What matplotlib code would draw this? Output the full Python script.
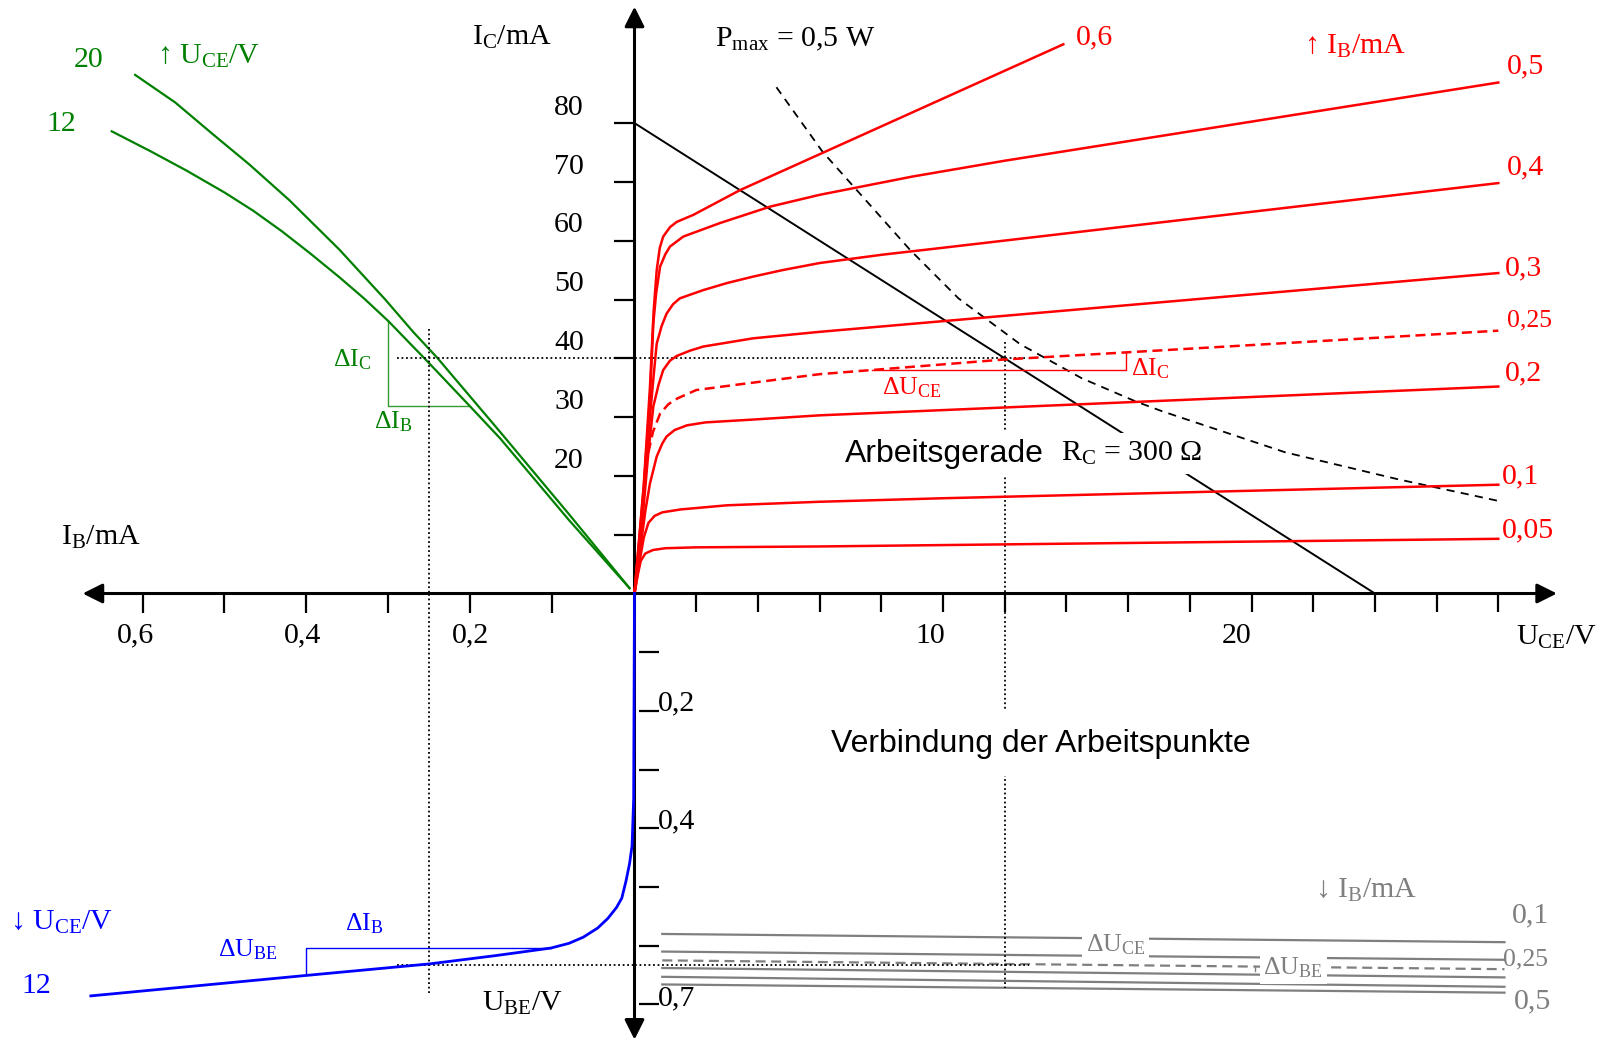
import numpy as np
import matplotlib.pyplot as plt

plt.rcParams['font.family'] = ['Liberation Serif', 'DejaVu Serif']
plt.rcParams['mathtext.fontset'] = 'custom'
plt.rcParams['mathtext.rm'] = 'Liberation Serif'
plt.rcParams['mathtext.it'] = 'Liberation Serif:italic'

# ---- quadrant I: output characteristics I_C(U_CE), parameter I_B
uce_005 = [0, 0.1, 0.2, 0.35, 0.6, 1.0, 2.0, 6.0, 28.0]
ic_005 = [0, 3.0, 5.5, 6.8, 7.4, 7.7, 7.85, 8.0, 9.3]
uce_01 = [0, 0.15, 0.3, 0.45, 0.65, 0.9, 1.5, 3.0, 6.0, 10.0, 28.0]
ic_01 = [0, 5.0, 9.5, 12.0, 13.2, 13.8, 14.3, 15.0, 15.6, 16.2, 18.5]
uce_02 = [0, 0.2, 0.35, 0.5, 0.72, 0.9, 1.04, 1.3, 1.7, 2.3, 3.9, 6.0, 28.0]
ic_02 = [0, 8.0, 14.0, 18.7, 23.3, 25.5, 26.7, 27.8, 28.6, 29.1, 29.6, 30.3, 35.2]
uce_025 = [0.45, 0.6, 0.83, 1.1, 1.4, 2.0, 3.3, 6.0, 12.0, 28.0]
ic_025 = [24.0, 27.5, 30.6, 32.2, 33.2, 34.6, 35.5, 37.3, 39.8, 44.7]
uce_03 = [0, 0.25, 0.45, 0.61, 0.78, 0.93, 1.15, 1.37, 1.8, 2.23, 3.85, 6.0, 28.0]
ic_03 = [0, 12.0, 24.0, 31.8, 35.5, 38.0, 39.6, 40.4, 41.3, 42.0, 43.4, 44.5, 54.5]
uce_04 = [0, 0.3, 0.5, 0.62, 0.72, 0.88, 1.04, 1.25, 1.47, 2.23, 3.0, 3.85, 4.8, 6.0, 8.0, 10.0, 28.0]
ic_04 = [0, 17.0, 30.0, 37.0, 42.5, 45.5, 47.6, 49.2, 50.2, 51.6, 52.8, 53.9, 55.0, 56.2, 57.6, 58.8, 69.8]
uce_05 = [0, 0.3, 0.5, 0.61, 0.7, 0.83, 1.0, 1.15, 1.58, 2.77, 4.4, 6.0, 9.0, 12.0, 28.0]
ic_05 = [0, 18.0, 33.0, 45.9, 51.0, 55.6, 57.7, 59.0, 60.7, 63.0, 65.8, 67.8, 70.9, 73.6, 86.9]
uce_06 = [0, 0.3, 0.5, 0.62, 0.72, 0.82, 0.93, 1.15, 1.37, 1.91, 3.42, 13.9]
ic_06 = [0, 18.5, 35.0, 48.0, 55.0, 58.8, 60.7, 62.3, 63.2, 64.4, 68.6, 93.4]

uce_load = [0, 24]
ic_load = [80, 0]

uce_pmax = [4.6, 6.1, 8.93, 10.5, 12.5, 14.5, 16.23, 17.1, 21.1, 24.77, 28.0]
ic_pmax = [86.1, 75.1, 58.45, 50.2, 42.4, 36.6, 32.7, 31.0, 24.0, 19.4, 15.75]

# ---- quadrant II: current gain I_C(I_B), parameter U_CE
ib_g12 = [0.006, 0.08, 0.164, 0.2007, 0.25, 0.30, 0.33, 0.36, 0.396, 0.43,
          0.465, 0.50, 0.546, 0.59, 0.6375]
ic_g12 = [0.9, 12.5, 26.4, 31.85, 39.1, 46.3, 50.2, 53.8, 57.9, 61.6,
          65.1, 68.2, 71.9, 75.2, 78.6]
ib_g20 = [0.006, 0.08, 0.164, 0.24, 0.27, 0.304, 0.36, 0.421, 0.47, 0.515, 0.56, 0.609]
ic_g20 = [0.9, 13.5, 27.5, 40.0, 44.5, 50.0, 58.5, 66.9, 73.0, 78.2, 83.5, 88.2]

# ---- quadrant III: input characteristic I_B(U_BE), U_CE = 12 V
ib_in = [0, 0.001, 0.003, 0.006, 0.0104, 0.0155, 0.022, 0.0325, 0.045, 0.0625,
         0.08, 0.102, 0.17, 0.25, 0.40, 0.663]
ube_in = [0, 0.35, 0.43, 0.46, 0.49, 0.519, 0.535, 0.5535, 0.570, 0.5855,
          0.596, 0.604, 0.617, 0.631, 0.6506, 0.6855]

# ---- quadrant IV: feedback U_BE(U_CE), parameter I_B
ib_fb = [0.1, 0.2, 0.25, 0.3, 0.4, 0.5]
uce_fb = [0.9, 28.2]
ube_fb_left = [0.580, 0.610, 0.625, 0.638, 0.653, 0.666]
ube_fb_right = [0.594, 0.624, 0.640, 0.654, 0.670, 0.680]

uce_ticks = np.arange(2, 29, 2)
ic_ticks = np.arange(10, 81, 10)
ic_labels = np.arange(20, 81, 10)
ib_ticks = np.arange(1, 7) / 10
ube_ticks = np.arange(1, 8) / 10

# ---- layout: four axes meeting in one origin
W, H = 1614, 1044
ox, oy = 634.5, 593.5
px_uce, px_ic, px_ib, px_ube = 30.85, 5.88, 820.0, 587.0

fig = plt.figure(figsize=(W / 100, H / 100), dpi=100)
ax1 = fig.add_axes([ox / W, (H - oy) / H, (W - ox) / W, oy / H])
ax2 = fig.add_axes([0, (H - oy) / H, ox / W, oy / H])
ax3 = fig.add_axes([0, 0, ox / W, (H - oy) / H])
ax4 = fig.add_axes([ox / W, 0, (W - ox) / W, (H - oy) / H])
ax1.set_xlim(0, (W - ox) / px_uce); ax1.set_ylim(0, oy / px_ic)
ax2.set_xlim(ox / px_ib, 0); ax2.set_ylim(0, oy / px_ic)
ax3.set_xlim(ox / px_ib, 0); ax3.set_ylim((H - oy) / px_ube, 0)
ax4.set_xlim(0, (W - ox) / px_uce); ax4.set_ylim((H - oy) / px_ube, 0)
for ax in (ax1, ax2, ax3, ax4):
    ax.axis('off')

RED, GREEN, BLUE, GRAY = '#ff0000', '#008000', '#0000ff', '#7f7f7f'
FS, FS2, FSS = 21.5, 18.5, 23
SANS = ['Liberation Sans', 'DejaVu Sans']
arr = dict(arrowstyle='-|>', lw=2.2, color='k', mutation_scale=30,
           shrinkA=0, shrinkB=0)

# coordinate axes with arrows
ax1.annotate('', xy=(29.9, 0), xytext=(0, 0), arrowprops=arr, annotation_clip=False)
ax1.annotate('', xy=(0, 99.8), xytext=(0, 0), arrowprops=arr, annotation_clip=False)
ax2.annotate('', xy=(0.673, 0), xytext=(0, 0), arrowprops=arr, annotation_clip=False)
ax3.annotate('', xy=(0, 0.760), xytext=(0, 0), arrowprops=arr, annotation_clip=False)

# tick marks
ax4.vlines(uce_ticks, 0, 0.031, color='k', lw=1.6, clip_on=False)
ax2.hlines(ic_ticks, 0, 0.0244, color='k', lw=1.6, clip_on=False)
ax3.vlines(ib_ticks, 0, 0.034, color='k', lw=1.6, clip_on=False)
ax4.hlines(ube_ticks, 0.15, 0.8, color='k', lw=1.6, clip_on=False)

# tick labels
for v in ic_labels:
    ax2.text(0.08, v + 2.6, f'{v}', fontsize=FS, ha='center', va='center')
for v, x in zip([0.6, 0.4, 0.2], [0.6085, 0.405, 0.2]):
    ax3.text(x, 0.072, f'{v:.1f}'.replace('.', ','), fontsize=FS, ha='center', va='center')
for v, x in zip([10, 20], [9.6, 19.53]):
    ax4.text(x, 0.072, f'{v}', fontsize=FS, ha='center', va='center')
for v, y in zip([0.2, 0.4, 0.7], [0.1876, 0.3875, 0.689]):
    ax4.text(0.77, y, f'{v:.1f}'.replace('.', ','), fontsize=FS, ha='left', va='center')

# axis titles
ax2.text(0.15, 94.5, r'I$_\mathrm{C}$/mA', fontsize=FS, ha='center', va='center')
ax2.text(0.651, 9.6, r'I$_\mathrm{B}$/mA', fontsize=FS, ha='center', va='center')
ax4.text(29.87, 0.0754, r'U$_\mathrm{CE}$/V', fontsize=FS, ha='center', va='center')
ax3.text(0.137, 0.698, r'U$_\mathrm{BE}$/V', fontsize=FS, ha='center', va='center')

# ---- quadrant I
red_curves = [(uce_005, ic_005), (uce_01, ic_01), (uce_02, ic_02), (uce_03, ic_03),
              (uce_04, ic_04), (uce_05, ic_05), (uce_06, ic_06)]
for u, i in red_curves:
    ax1.plot(u, i, color=RED, lw=1.8, clip_on=False, zorder=4, solid_joinstyle='round')
ax1.plot(uce_025, ic_025, color=RED, lw=1.8, ls=(0, (4, 2.2)), clip_on=False, zorder=4)
ax1.plot(uce_load, ic_load, color='k', lw=1.4, clip_on=False, zorder=3)
ax1.plot(uce_pmax, ic_pmax, color='k', lw=1.3, ls=(0, (4.5, 3.5)), clip_on=False, zorder=3)

# working point construction
ax1.plot([0, 12.7], [40, 40], color='k', lw=1.3, ls=(0, (1, 1.5)), zorder=2)
ax1.plot([12, 12], [42.7, 0], color='k', lw=1.3, ls=(0, (1, 1.5)), zorder=2)
ax1.plot([7.7, 15.93, 15.93], [38.0, 38.0, 40.85], color=RED, lw=1.0, zorder=4)

ax1.text(9.0, 35.0, r'$\Delta$U$_\mathrm{CE}$', color=RED, fontsize=FS2, ha='center', va='center')
ax1.text(16.1, 38.3, r'$\Delta$I$_\mathrm{C}$', color=RED, fontsize=FS2, ha='left', va='center')
ax1.text(2.6, 94.3, r'P$_\mathrm{max}$ = 0,5 W', fontsize=FS, ha='left', va='center')
ax1.text(14.3, 94.5, '0,6', color=RED, fontsize=FS, ha='left', va='center')
ax1.text(21.7, 93.1, r'↑ I$_\mathrm{B}$/mA', color=RED, fontsize=FS, ha='left', va='center')
for txt, x, y, fs in [('0,5', 28.27, 89.6, FS), ('0,4', 28.27, 72.45, FS),
                      ('0,3', 28.2, 55.3, FS), ('0,25', 28.27, 46.4, FS2),
                      ('0,2', 28.2, 37.45, FS), ('0,1', 28.13, 19.95, FS),
                      ('0,05', 28.1, 10.7, FS)]:
    ax1.text(x, y, txt, color=RED, fontsize=fs, ha='left', va='center')

box = dict(boxstyle='square,pad=0.22', fc='white', ec='none')
ax1.text(6.83, 23.8, 'Arbeitsgerade', family=SANS, fontsize=FSS,
         ha='left', va='center', bbox=box, zorder=5)
ax1.text(13.83, 23.8, r'R$_\mathrm{C}$ = 300 Ω', fontsize=FS, ha='left', va='center',
         bbox=box, zorder=5)

# ---- quadrant II
ax2.plot(ib_g12, ic_g12, color=GREEN, lw=1.6, clip_on=False, solid_joinstyle='round')
ax2.plot(ib_g20, ic_g20, color=GREEN, lw=1.6, clip_on=False, solid_joinstyle='round')
ax2.plot([0.2007, 0.30, 0.30], [31.85, 31.85, 46.3], color=GREEN, lw=1.0, alpha=0.8)
ax2.plot([0.29, 0], [40, 40], color='k', lw=1.3, ls=(0, (1, 1.5)))
ax2.plot([0.25, 0.25], [45, 0], color='k', lw=1.3, ls=(0, (1, 1.5)))
ax2.text(0.582, 91.35, r'↑ U$_\mathrm{CE}$/V', color=GREEN, fontsize=FS, ha='left', va='center')
ax2.text(0.666, 90.8, '20', color=GREEN, fontsize=FS, ha='center', va='center')
ax2.text(0.699, 79.8, '12', color=GREEN, fontsize=FS, ha='center', va='center')
ax2.text(0.344, 39.7, r'$\Delta$I$_\mathrm{C}$', color=GREEN, fontsize=FS2, ha='center', va='center')
ax2.text(0.294, 29.2, r'$\Delta$I$_\mathrm{B}$', color=GREEN, fontsize=FS2, ha='center', va='center')

# ---- quadrant III
ax3.plot([0.25, 0.25], [0, 0.681], color='k', lw=1.3, ls=(0, (1, 1.5)))
ax3.plot([0.29, 0], [0.633, 0.633], color='k', lw=1.3, ls=(0, (1, 1.5)))
ax3.plot(ib_in, ube_in, color=BLUE, lw=2.0, clip_on=False, zorder=5, solid_joinstyle='round')
ax3.plot([0.102, 0.40, 0.40], [0.604, 0.604, 0.6506], color=BLUE, lw=1.0)
ax3.text(0.7616, 0.561, r'↓ U$_\mathrm{CE}$/V', color=BLUE, fontsize=FS, ha='left', va='center')
ax3.text(0.729, 0.668, '12', color=BLUE, fontsize=FS, ha='center', va='center')
ax3.text(0.472, 0.607, r'$\Delta$U$_\mathrm{BE}$', color=BLUE, fontsize=FS2, ha='center', va='center')
ax3.text(0.329, 0.563, r'$\Delta$I$_\mathrm{B}$', color=BLUE, fontsize=FS2, ha='center', va='center')

# ---- quadrant IV
for ib, ul, ur in zip(ib_fb, ube_fb_left, ube_fb_right):
    ls = (0, (4.5, 2.5)) if ib == 0.25 else '-'
    ax4.plot(uce_fb, [ul, ur], color=GRAY, lw=1.6, ls=ls, zorder=2)
ax4.plot([0, 12.8], [0.633, 0.633], color='k', lw=1.3, ls=(0, (1, 1.5)), zorder=3)
ax4.plot([12, 12], [0, 0.672], color='k', lw=1.3, ls=(0, (1, 1.5)), zorder=3)
ax4.plot([20.1, 20.1], [0.634, 0.643], color=GRAY, lw=1.0, zorder=3)

gbox = dict(boxstyle='square,pad=0.15', fc='white', ec='none')
ax4.text(15.6, 0.598, r'$\Delta$U$_\mathrm{CE}$', color=GRAY, fontsize=FS2, ha='center',
         va='center', bbox=gbox, zorder=5)
ax4.text(21.35, 0.637, r'$\Delta$U$_\mathrm{BE}$', color=GRAY, fontsize=FS2, ha='center',
         va='center', bbox=gbox, zorder=5)
ax4.text(23.7, 0.505, r'↓ I$_\mathrm{B}$/mA', color=GRAY, fontsize=FS, ha='center', va='center')
ax4.text(29.03, 0.549, '0,1', color=GRAY, fontsize=FS, ha='center', va='center')
ax4.text(28.87, 0.624, '0,25', color=GRAY, fontsize=FS2, ha='center', va='center')
ax4.text(29.1, 0.694, '0,5', color=GRAY, fontsize=FS, ha='center', va='center')
ax4.text(13.17, 0.256, 'Verbindung der Arbeitspunkte', family=SANS,
         fontsize=FSS, ha='center', va='center',
         bbox=dict(boxstyle='square,pad=0.55', fc='white', ec='none'), zorder=5)

fig.savefig('out.png', dpi=100)
